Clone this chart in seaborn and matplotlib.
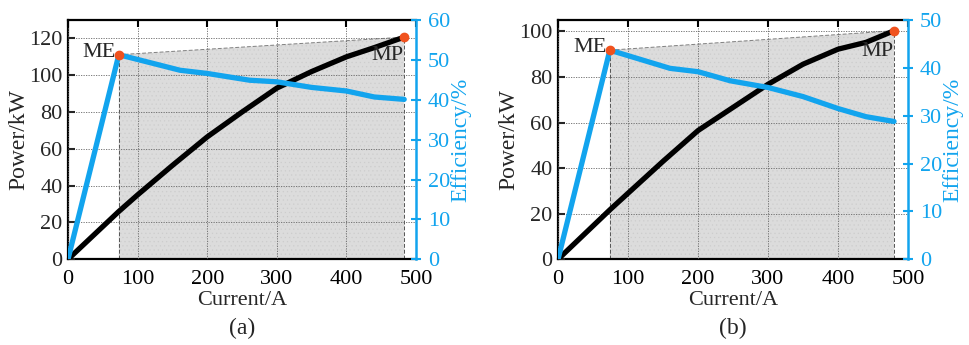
import matplotlib
matplotlib.use("Agg")
import matplotlib.pyplot as plt
import seaborn as sns
import pandas as pd

# panel (a)
current_a = [0, 73, 100, 150, 200, 250, 300, 350, 400, 440, 483]
power_a = [0, 26, 35, 51, 66.5, 80, 93, 102, 110, 115, 120.7]
eff_current_a = [0, 73, 161, 200, 261, 300, 350, 400, 440, 483]
eff_a = [0, 51.3, 47.4, 46.6, 44.9, 44.5, 43.1, 42.2, 40.7, 40.1]

# panel (b)
current_b = [0, 74, 100, 150, 200, 231, 300, 350, 400, 440, 480]
power_b = [0, 21.7, 29, 43, 56.5, 62.8, 76.8, 85.6, 92.2, 95.2, 100.3]
eff_current_b = [0, 74, 160, 200, 246, 300, 350, 400, 440, 480]
eff_b = [0, 43.7, 39.9, 39.2, 37.3, 35.9, 34.0, 31.5, 29.8, 28.8]

BLUE = "#12A4EE"
RED = "#F0521E"

sns.set_theme(style="white")
plt.rcParams["font.family"] = ["Liberation Serif", "DejaVu Serif"]
plt.rcParams["hatch.linewidth"] = 0.4


def panel(fig, rect, cur, pw, ecur, eff, pmax, emax, pticks, eticks, tag):
    ax = fig.add_axes(rect)
    ax2 = ax.twinx()
    scale = pmax / emax

    i_me = 1
    x_me, e_me = ecur[i_me], eff[i_me]
    x_mp, p_mp = cur[-1], pw[-1]
    y_me = e_me * scale

    # shaded operating region
    ax.fill_between([x_me, x_mp], [y_me, p_mp], 0, color="#dcdcdc",
                    hatch="....", edgecolor="#cdcdcd", linewidth=0, zorder=0)
    ax.plot([x_me, x_mp], [y_me, p_mp], ls=(0, (4, 2)), color="#808080", lw=0.7, zorder=1)
    ax.plot([x_me, x_me], [0, y_me], ls=(0, (4, 2)), color="#555555", lw=0.7, zorder=1)
    ax.plot([x_mp, x_mp], [0, p_mp], ls=(0, (4, 2)), color="#555555", lw=0.7, zorder=1)

    ax.set_axisbelow(False)
    ax.grid(True, ls=(0, (1.5, 1.5)), color="#666666", lw=0.6, zorder=1)

    dfp = pd.DataFrame({"I": cur, "P": pw})
    sns.lineplot(data=dfp, x="I", y="P", ax=ax, color="black", lw=3.8, zorder=3)
    ax.plot([x_mp], [p_mp], "o", color=RED, ms=6, zorder=6, clip_on=False)

    dfe = pd.DataFrame({"I": ecur, "E": eff})
    sns.lineplot(data=dfe, x="I", y="E", ax=ax2, color=BLUE, lw=3.8, zorder=3)
    ax2.plot([x_me], [e_me], "o", color=RED, ms=6, zorder=6)

    ax.set_xlim(0, 500)
    ax.set_ylim(0, pmax)
    ax2.set_ylim(0, emax)
    ax.set_xticks([0, 100, 200, 300, 400, 500])
    ax.set_yticks(pticks)
    ax2.set_yticks(eticks)

    ax.tick_params(axis="x", direction="in", top=True, length=5, width=1.5,
                   labelsize=16, pad=8, colors="black")
    ax.tick_params(axis="y", direction="in", length=5, width=1.5, labelsize=16, pad=4)
    ax2.tick_params(axis="y", direction="inout", length=7, width=1.5, labelsize=16,
                    colors=BLUE, pad=5)

    for s in ["left", "bottom", "top"]:
        ax.spines[s].set_linewidth(1.6)
        ax.spines[s].set_color("black")
    ax.spines["right"].set_visible(False)
    for s in ["left", "bottom", "top"]:
        ax2.spines[s].set_visible(False)
    ax2.spines["right"].set_color(BLUE)
    ax2.spines["right"].set_linewidth(1.8)

    ax.set_xlabel("Current/A", fontsize=16, labelpad=1)
    ax.set_ylabel("Power/kW", fontsize=17, labelpad=0)
    ax2.set_ylabel("Efficiency/%", fontsize=17, color=BLUE, labelpad=0)

    ax.text(x_me - 5, y_me + 1, "ME", fontsize=16, ha="right", va="center", zorder=7)
    ax.text(x_mp - 1, p_mp - 5, "MP", fontsize=16, ha="right", va="top", zorder=7)
    ax.text(0.5, -0.245, tag, transform=ax.transAxes, fontsize=17, ha="center", va="top")
    ax.set_zorder(ax2.get_zorder() - 1)
    ax2.patch.set_visible(False)
    ax.patch.set_visible(True)
    ax.patch.set_facecolor("white")
    return ax, ax2


fig = plt.figure(figsize=(9.7, 3.45), dpi=100)
fig.patch.set_facecolor("white")
panel(fig, [0.0701, 0.2484, 0.3588, 0.6936], current_a, power_a, eff_current_a, eff_a,
      130, 60, [0, 20, 40, 60, 80, 100, 120], [0, 10, 20, 30, 40, 50, 60], "(a)")
panel(fig, [0.5753, 0.2484, 0.3608, 0.6936], current_b, power_b, eff_current_b, eff_b,
      105, 50, [0, 20, 40, 60, 80, 100], [0, 10, 20, 30, 40, 50], "(b)")

fig.savefig("out.png", dpi=100)
